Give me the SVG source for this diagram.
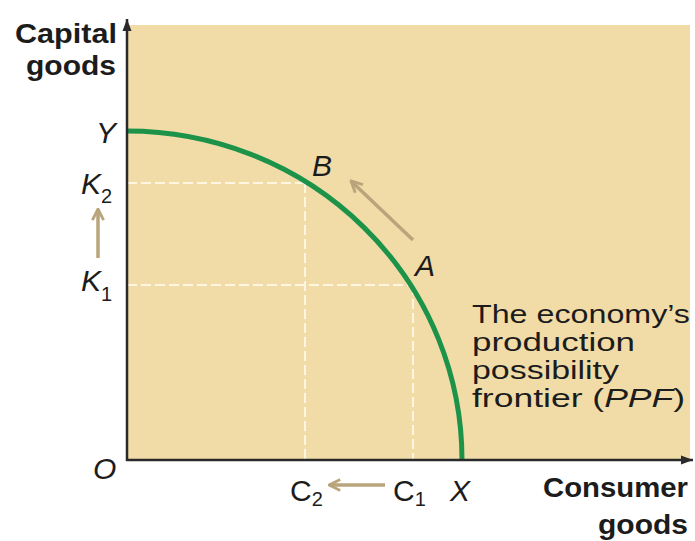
<svg xmlns="http://www.w3.org/2000/svg" width="695" height="541" viewBox="0 0 695 541">
<style>
.lbl{font-family:"Liberation Sans",Arial,sans-serif;fill:#1c1c1c}
.it{font-style:italic;font-size:30px}
.up{font-size:30px}
.sub{font-size:20px}
.ax{font-weight:bold;font-size:28px}
.ppf{font-size:25px}
.dash{stroke:#fff8e6;stroke-width:2;stroke-dasharray:10 4;fill:none;opacity:0.9}
.move{stroke:#b9a47c;stroke-width:3.5;fill:none}
</style>
<defs>
<marker id="ah" viewBox="0 0 10 10" refX="9" refY="5" markerWidth="4" markerHeight="4" orient="auto" markerUnits="strokeWidth">
<path d="M1,1 L9,5 L1,9" fill="none" stroke="#b9a47c" stroke-width="2"/>
</marker>
<marker id="axh" viewBox="0 0 10 10" refX="9" refY="5" markerWidth="6" markerHeight="6" orient="auto" markerUnits="strokeWidth">
<path d="M1,2 L9,5 L1,8 Z" fill="#2a2a2a"/>
</marker>
</defs>
<rect width="695" height="541" fill="#ffffff"/>
<rect id="plot" x="127" y="25" width="563" height="435" fill="#f1dca8"/>
<g id="guides">
<line class="dash" x1="127" y1="183" x2="305" y2="183"/>
<line class="dash" x1="305" y1="183" x2="305" y2="460"/>
<line class="dash" x1="127" y1="285" x2="413" y2="285"/>
<line class="dash" x1="413" y1="285" x2="413" y2="460"/>
</g>
<g id="ppf-curve">
<path d="M127,131 A335,329 0 0 1 462,460" fill="none" stroke="#1d934a" stroke-width="5"/>
</g>
<g id="connectors">
<line x1="127" y1="461" x2="127" y2="19" stroke="#2a2a2a" stroke-width="2.5" marker-end="url(#axh)"/>
<line x1="126" y1="460" x2="693" y2="460" stroke="#2a2a2a" stroke-width="2.5" marker-end="url(#axh)"/>
<line class="move" x1="413" y1="240" x2="351" y2="181" marker-end="url(#ah)"/>
<line class="move" x1="98" y1="258" x2="98" y2="209" marker-end="url(#ah)"/>
<line class="move" x1="385" y1="485" x2="329" y2="485" marker-end="url(#ah)"/>
</g>
<g id="y-axis-label">
<text class="lbl ax" x="117" y="43" text-anchor="end" textLength="102" lengthAdjust="spacingAndGlyphs">Capital</text>
<text class="lbl ax" x="116" y="75" text-anchor="end" textLength="90" lengthAdjust="spacingAndGlyphs">goods</text>
</g>
<g id="x-axis-label">
<text class="lbl ax" x="688" y="497" text-anchor="end" textLength="145" lengthAdjust="spacingAndGlyphs">Consumer</text>
<text class="lbl ax" x="688" y="534" text-anchor="end" textLength="90" lengthAdjust="spacingAndGlyphs">goods</text>
</g>
<g id="point-Y"><text class="lbl it" x="96" y="143">Y</text></g>
<g id="point-K2"><text class="lbl it" x="81" y="194">K<tspan class="sub" font-style="normal" dy="9">2</tspan></text></g>
<g id="point-K1"><text class="lbl it" x="81" y="291">K<tspan class="sub" font-style="normal" dy="10">1</tspan></text></g>
<g id="point-O"><text class="lbl it" x="93" y="479">O</text></g>
<g id="point-B"><text class="lbl it" x="312" y="176">B</text></g>
<g id="point-A"><text class="lbl it" x="415" y="276">A</text></g>
<g id="point-C2"><text class="lbl up" x="290" y="501">C<tspan class="sub" dy="5">2</tspan></text></g>
<g id="point-C1"><text class="lbl up" x="393" y="501">C<tspan class="sub" dy="5">1</tspan></text></g>
<g id="point-X"><text class="lbl it" x="450" y="501">X</text></g>
<g id="ppf-label">
<text class="lbl ppf" x="472" y="323" textLength="218" lengthAdjust="spacingAndGlyphs">The economy’s</text>
<text class="lbl ppf" x="472" y="351" textLength="163" lengthAdjust="spacingAndGlyphs">production</text>
<text class="lbl ppf" x="472" y="379" textLength="147" lengthAdjust="spacingAndGlyphs">possibility</text>
<text class="lbl ppf" x="472" y="407" textLength="213" lengthAdjust="spacingAndGlyphs">frontier (<tspan font-style="italic">PPF</tspan>)</text>
</g>
</svg>
